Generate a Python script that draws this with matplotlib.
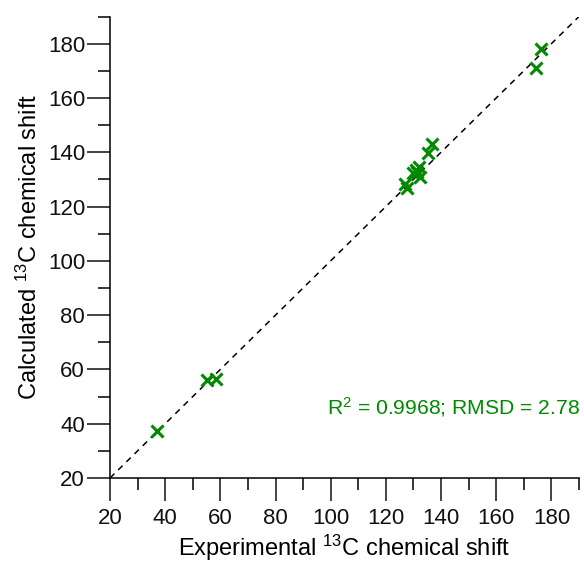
import matplotlib.pyplot as plt
from matplotlib.ticker import MultipleLocator

plt.rcParams['font.family'] = ['Liberation Sans', 'DejaVu Sans']
plt.rcParams['mathtext.default'] = 'regular'

# experimental vs calculated 13C shifts (ppm)
exp_shift = [36.9, 55.3, 58.4, 126.9, 127.5, 129.9, 130.9, 132.1, 132.3,
             131.2, 135.3, 136.6, 174.3, 176.2]
calc_shift = [37.4, 56.0, 56.3, 128.3, 126.7, 132.2, 133.5, 134.7, 131.0,
              132.6, 139.6, 143.0, 171.0, 177.9]
stats_text = r'R$^2$ = 0.9968; RMSD = 2.78'
green = '#008a00'

fig = plt.figure(figsize=(5.84, 5.62), dpi=100)
ax = fig.add_axes([0.1884, 0.1495, 0.8030, 0.8211])

ax.plot([20, 190], [20, 190], color='black', linestyle=(0, (4, 3.5)), linewidth=1.1)
ax.plot(exp_shift, calc_shift, linestyle='none', marker='x', color=green,
        markersize=9, markeredgewidth=2.2)

ax.set_xlim(20, 190)
ax.set_ylim(20, 190)
ax.xaxis.set_minor_locator(MultipleLocator(10))
ax.yaxis.set_minor_locator(MultipleLocator(10))
ax.set_xticks([20, 40, 60, 80, 100, 120, 140, 160, 180])
ax.set_yticks([20, 40, 60, 80, 100, 120, 140, 160, 180])

for side in ['top', 'right']:
    ax.spines[side].set_visible(False)
for side in ['left', 'bottom']:
    ax.spines[side].set_linewidth(1.1)

ax.tick_params(which='major', direction='out', length=16.5, width=1.1,
               labelsize=16, colors='#111111')
ax.tick_params(axis='x', which='major', pad=5)
ax.tick_params(axis='y', which='major', pad=1.5)
ax.tick_params(which='minor', direction='out', length=8.5, width=1.1)

ax.set_xlabel(r'Experimental $^{13}$C chemical shift', fontsize=17, labelpad=3)
ax.set_ylabel(r'Calculated $^{13}$C chemical shift', fontsize=17, labelpad=4)

ax.text(190.5, 46.2, stats_text, color=green, fontsize=15.2, ha='right', va='center')

fig.savefig('out.png', dpi=100)
